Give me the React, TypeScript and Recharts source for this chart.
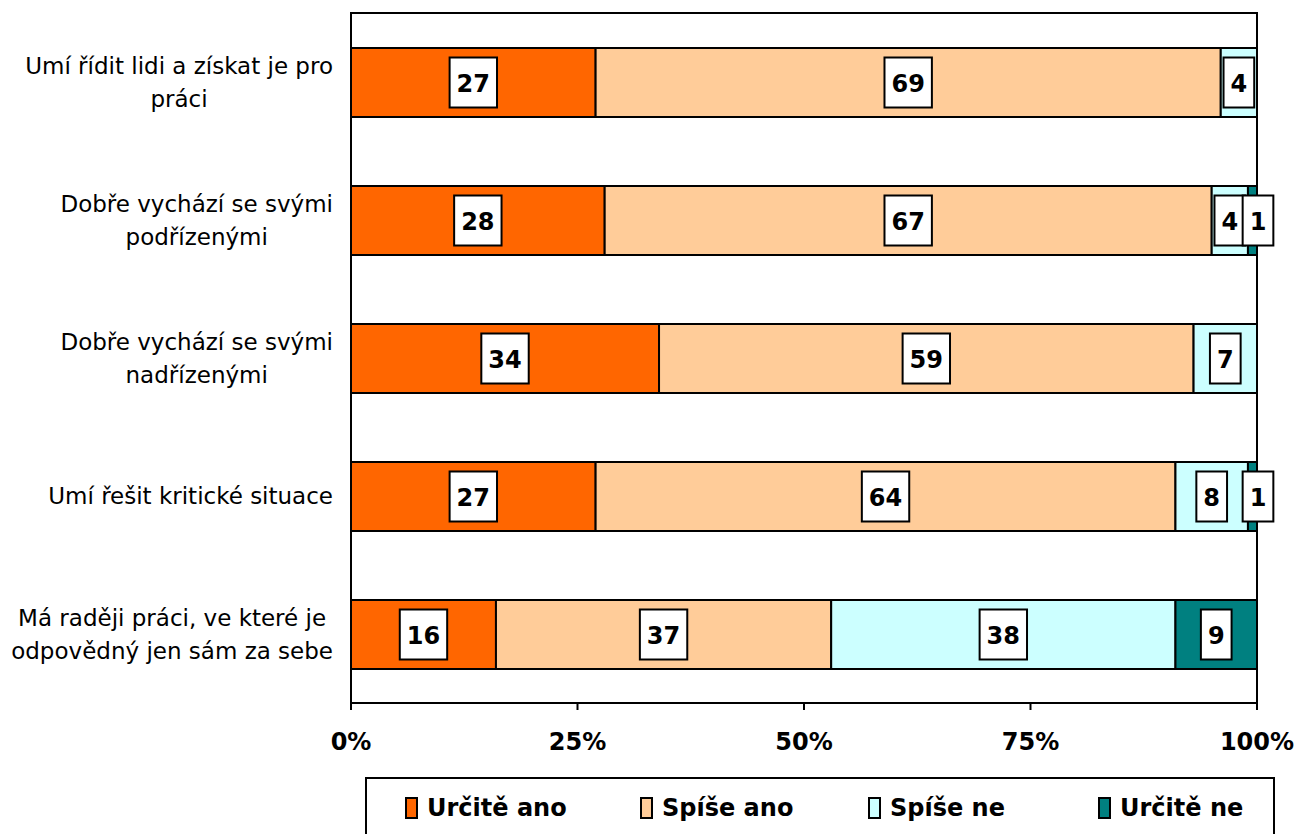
import React from 'react';
import { BarChart, Bar, XAxis, YAxis, LabelList, ReferenceArea } from 'recharts';

// Answers per statement, in percent
const categories = [
  'Umí řídit lidi a získat je pro\npráci',
  'Dobře vychází se svými\npodřízenými',
  'Dobře vychází se svými\nnadřízenými',
  'Umí řešit kritické situace',
  'Má raději práci, ve které je\nodpovědný jen sám za sebe',
];
const urciteAno = [27, 28, 34, 27, 16];
const spiseAno = [69, 67, 59, 64, 37];
const spiseNe = [4, 4, 7, 8, 38];
const urciteNe = [0, 1, 0, 1, 9];

const xTicks = [0, 25, 50, 75, 100];

const series = [
  { key: 'urciteAno', name: 'Určitě ano', color: '#FF6600' },
  { key: 'spiseAno', name: 'Spíše ano', color: '#FFCC99' },
  { key: 'spiseNe', name: 'Spíše ne', color: '#CCFFFF' },
  { key: 'urciteNe', name: 'Určitě ne', color: '#008080' },
];

const data = categories.map((name, i) => ({
  name,
  urciteAno: urciteAno[i],
  spiseAno: spiseAno[i],
  spiseNe: spiseNe[i],
  urciteNe: urciteNe[i],
}));

const FONT = '"DejaVu Sans", Verdana, sans-serif';
const LABEL_FONT = `bold 24px ${FONT}`;
const TICK_FONT = `23px ${FONT}`;

let measureCtx: CanvasRenderingContext2D | null = null;
function textWidth(text: string, font: string) {
  if (!measureCtx) measureCtx = document.createElement('canvas').getContext('2d');
  if (!measureCtx) return text.length * 12;
  measureCtx.font = font;
  return measureCtx.measureText(text).width;
}

// wrapped category label, lines centred within a right-aligned block
function CategoryTick(props: any) {
  const { x, y, payload } = props;
  const lines: string[] = String(payload.value).split('\n');
  const maxW = Math.max(...lines.map((l) => textWidth(l, TICK_FONT)));
  const cx = x - maxW / 2;
  const lineH = 33;
  const top = y - ((lines.length - 1) * lineH) / 2;
  return (
    <g>
      {lines.map((l, i) => (
        <text
          key={i}
          x={cx}
          y={top + i * lineH}
          textAnchor="middle"
          dominantBaseline="central"
          fontFamily={FONT}
          fontSize={23}
          fill="#000"
        >
          {l}
        </text>
      ))}
    </g>
  );
}

// boxed value label in the middle of each segment;
// a sliver too thin for its box gets the box on its right edge
function ValueLabel(props: any) {
  const { x, y, width, height, value } = props;
  if (!value) return null;
  const text = String(value);
  const w = textWidth(text, LABEL_FONT) + 14;
  const h = 50;
  const bx = Number(x);
  const bw = Number(width);
  const cx = bw < w / 2 ? bx + bw + 1 : bx + bw / 2;
  const cy = Number(y) + Number(height) / 2;
  return (
    <g>
      <rect x={cx - w / 2} y={cy - h / 2} width={w} height={h} fill="#fff" stroke="#000" strokeWidth={2} />
      <text
        x={cx}
        y={cy + 1}
        textAnchor="middle"
        dominantBaseline="central"
        fontFamily={FONT}
        fontWeight="bold"
        fontSize={24}
        fill="#000"
      >
        {text}
      </text>
    </g>
  );
}

const legendSlots = [235, 228, 230, 190];

export default function App() {
  return (
    <div style={{ position: 'absolute', left: 0, top: 0, width: 1296, height: 834, background: '#fff', overflow: 'hidden' }}>
      <BarChart
        width={1296}
        height={834}
        data={data}
        layout="vertical"
        margin={{ top: 13, right: 39, left: 0, bottom: 71 }}
      >
        <XAxis
          type="number"
          domain={[0, 100]}
          ticks={xTicks}
          tickFormatter={(v: number) => `${v}%`}
          axisLine={{ stroke: '#000', strokeWidth: 2 }}
          tickLine={{ stroke: '#000', strokeWidth: 2 }}
          tickSize={7}
          tickMargin={23}
          height={60}
          interval={0}
          tick={{ fill: '#000', fontFamily: FONT, fontWeight: 'bold', fontSize: 24 }}
        />
        <YAxis
          type="category"
          dataKey="name"
          width={351}
          tickLine={false}
          tickSize={0}
          tickMargin={18}
          axisLine={{ stroke: '#000', strokeWidth: 2 }}
          tick={<CategoryTick />}
          interval={0}
        />
        {/* plot frame */}
        <ReferenceArea x1={0} x2={100} fill="none" stroke="#000" strokeWidth={2} ifOverflow="visible" />
        {series.map((s) => (
          <Bar
            key={s.key}
            dataKey={s.key}
            name={s.name}
            stackId="a"
            barSize={69}
            fill={s.color}
            stroke="#000"
            strokeWidth={2}
            isAnimationActive={false}
          >
            <LabelList dataKey={s.key} content={ValueLabel} />
          </Bar>
        ))}
      </BarChart>
      <div
        style={{
          position: 'absolute',
          left: 365,
          top: 777,
          width: 910,
          height: 70,
          border: '2px solid #000',
          boxSizing: 'border-box',
          display: 'flex',
          alignItems: 'flex-start',
          paddingLeft: 38,
          paddingTop: 15,
          fontFamily: FONT,
          fontWeight: 'bold',
          fontSize: 24,
        }}
      >
        {series.map((s, i) => (
          <div key={s.key} style={{ width: legendSlots[i], flexShrink: 0, display: 'flex', alignItems: 'center', whiteSpace: 'nowrap' }}>
            <span
              style={{
                display: 'inline-block',
                width: 9,
                height: 18,
                background: s.color,
                border: '2px solid #000',
                marginRight: 9,
              }}
            />
            <span>{s.name}</span>
          </div>
        ))}
      </div>
    </div>
  );
}
